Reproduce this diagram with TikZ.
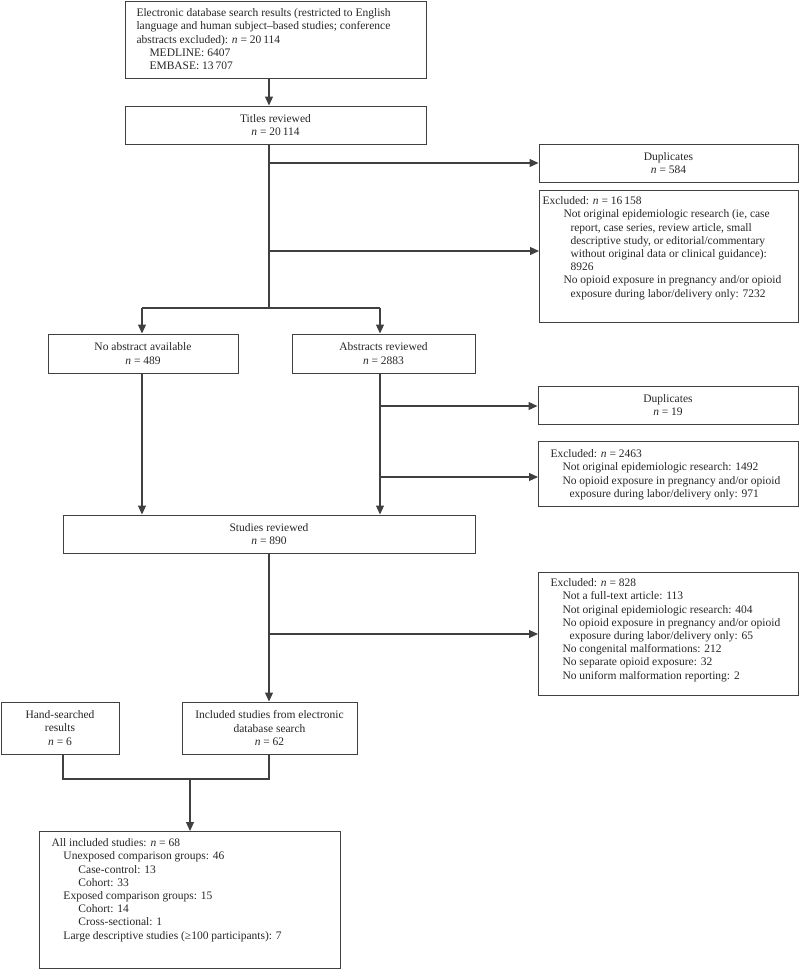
\documentclass[tikz,border=0pt]{standalone}
\usepackage{fontspec}
\setmainfont{Liberation Serif}
\usetikzlibrary{arrows.meta}
\definecolor{ln}{HTML}{404040}
\newcommand\tx[4]{\parbox[c][#2][t]{#1}{\fontsize{11.5}{13.2}\selectfont\raggedright\vspace*{#3}\strut #4}}
\newcommand\ind[2]{\hspace*{#1}#2}
\tikzset{
  every node/.style={font=\fontsize{11.5}{13.2}\selectfont, text=black!85},
  cbox/.style={draw=ln, line width=1pt, inner sep=0pt, align=center},
  lbox/.style={draw=ln, line width=1pt, inner sep=0pt, anchor=north west},
  conn/.style={draw=ln, line width=1.1pt},
  arr/.style={conn, -{Triangle[length=9pt,width=8pt]}}
}
\begin{document}
\begin{tikzpicture}[x=1pt,y=-1pt]
\useasboundingbox (0,0) rectangle (800,970);
% boxes
\node[lbox] (search) at (125,1) {\tx{301pt}{77pt}{6pt}{%
\ind{11pt}{Electronic database search results (restricted to English}\\
\ind{11pt}{language and human subject--based studies; conference}\\
\ind{11pt}{abstracts excluded): \textit{n} = 20\,114}\\
\ind{24pt}{MEDLINE: 6407}\\
\ind{24pt}{EMBASE: 13\,707}}};
\node[cbox, minimum width=301pt, minimum height=38pt] (titles) at (275.5,125) {Titles reviewed\\\textit{n} = 20\,114};
\node[cbox, minimum width=259pt, minimum height=38pt] (dup1) at (668.5,163) {Duplicates\\\textit{n} = 584};
\node[lbox] (ex1) at (539,190) {\tx{259pt}{132pt}{5pt}{%
\ind{3pt}{Excluded: \textit{n} = 16\,158}\\
\ind{24pt}{Not original epidemiologic research (ie, case}\\
\ind{31pt}{report, case series, review article, small}\\
\ind{31pt}{descriptive study, or editorial/commentary}\\
\ind{31pt}{without original data or clinical guidance):}\\
\ind{31pt}{8926}\\
\ind{24pt}{No opioid exposure in pregnancy and/or opioid}\\
\ind{31pt}{exposure during labor/delivery only: 7232}}};
\node[cbox, minimum width=190pt, minimum height=39pt] (noabs) at (143,353.5) {No abstract available\\\textit{n} = 489};
\node[cbox, minimum width=183pt, minimum height=39pt] (abs) at (383.5,353.5) {Abstracts reviewed\\\textit{n} = 2883};
\node[cbox, minimum width=260pt, minimum height=38pt] (dup2) at (668,405) {Duplicates\\\textit{n} = 19};
\node[lbox] (ex2) at (538,441) {\tx{260pt}{65pt}{7pt}{%
\ind{12pt}{Excluded: \textit{n} = 2463}\\
\ind{24pt}{Not original epidemiologic research: 1492}\\
\ind{24pt}{No opioid exposure in pregnancy and/or opioid}\\
\ind{31pt}{exposure during labor/delivery only: 971}}};
\node[cbox, minimum width=412pt, minimum height=38pt] (studies) at (269,534) {Studies reviewed\\\textit{n} = 890};
\node[lbox] (ex3) at (538,572) {\tx{260pt}{123pt}{5pt}{%
\ind{12pt}{Excluded: \textit{n} = 828}\\
\ind{24pt}{Not a full-text article: 113}\\
\ind{24pt}{Not original epidemiologic research: 404}\\
\ind{24pt}{No opioid exposure in pregnancy and/or opioid}\\
\ind{31pt}{exposure during labor/delivery only: 65}\\
\ind{24pt}{No congenital malformations: 212}\\
\ind{24pt}{No separate opioid exposure: 32}\\
\ind{24pt}{No uniform malformation reporting: 2}}};
\node[cbox, minimum width=118pt, minimum height=52pt] (hand) at (60,728) {Hand-searched\\results\\\textit{n} = 6};
\node[cbox, minimum width=175pt, minimum height=52pt] (incl) at (269.5,728) {Included studies from electronic\\database search\\\textit{n} = 62};
\node[lbox] (final) at (39,831) {\tx{301pt}{137pt}{6pt}{%
\ind{12pt}{All included studies: \textit{n} = 68}\\
\ind{24pt}{Unexposed comparison groups: 46}\\
\ind{39pt}{Case-control: 13}\\
\ind{39pt}{Cohort: 33}\\
\ind{24pt}{Exposed comparison groups: 15}\\
\ind{39pt}{Cohort: 14}\\
\ind{39pt}{Cross-sectional: 1}\\
\ind{24pt}{Large descriptive studies (≥100 participants): 7}}};
% coordinates
\coordinate (tx) at (269,0);
\coordinate (ax) at (380,0);
\coordinate (b1) at (269,163);
\coordinate (b2) at (269,251);
\coordinate (sp) at (269,308);
\coordinate (spl) at (142,308);
\coordinate (spr) at (380,308);
\coordinate (b3) at (380,406);
\coordinate (b4) at (380,477);
\coordinate (b5) at (269,634);
\coordinate (jl) at (63,779);
\coordinate (jr) at (269,779);
\coordinate (jm) at (190,779);
% connectors
\draw[arr] (search.south -| tx) -- (titles.north -| tx);
\draw[conn] (titles.south -| tx) -- (sp);
\draw[arr] (b1) -- (b1 -| dup1.west);
\draw[arr] (b2) -- (b2 -| ex1.west);
\draw[conn] (spl) -- (spr);
\draw[arr] (spl) -- (noabs.north -| spl);
\draw[arr] (spr) -- (abs.north -| spr);
\draw[arr] (abs.south -| ax) -- (studies.north -| ax);
\draw[arr] (b3) -- (b3 -| dup2.west);
\draw[arr] (b4) -- (b4 -| ex2.west);
\draw[arr] (noabs.south -| spl) -- (studies.north -| spl);
\draw[arr] (studies.south -| tx) -- (incl.north -| tx);
\draw[arr] (b5) -- (b5 -| ex3.west);
\draw[conn] (hand.south -| jl) -- (jl) -- (jr) -- (incl.south -| jr);
\draw[arr] (jm) -- (final.north -| jm);
\end{tikzpicture}
\end{document}
